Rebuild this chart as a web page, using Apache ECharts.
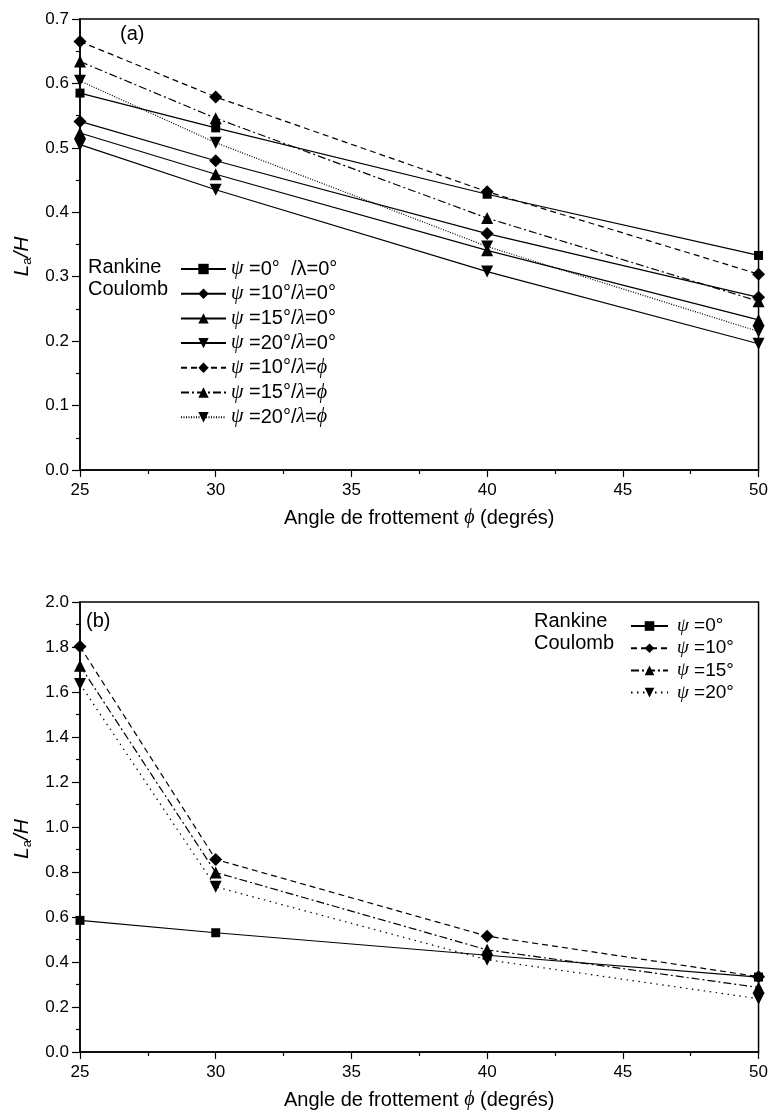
<!DOCTYPE html>
<html>
<head>
<meta charset="utf-8">
<script src="https://cdn.jsdelivr.net/npm/echarts@6/dist/echarts.min.js"></script>
<style>html,body{margin:0;padding:0;background:#fff;}#c{width:771px;height:1117px;}</style>
</head>
<body>
<div id="c"></div>
<script>
// ---- data ----
const phi = [25, 30, 40, 50];
const xTicks = [25, 30, 35, 40, 45, 50];
const yTicksA = [0.0, 0.1, 0.2, 0.3, 0.4, 0.5, 0.6, 0.7];
const yTicksB = [0.0, 0.2, 0.4, 0.6, 0.8, 1.0, 1.2, 1.4, 1.6, 1.8, 2.0];

// (a)
const rankineA = [0.585, 0.531, 0.428, 0.333];
const c10_l0 = [0.541, 0.480, 0.367, 0.268];
const c15_l0 = [0.523, 0.459, 0.341, 0.233];
const c20_l0 = [0.505, 0.435, 0.308, 0.196];
const c10_lp = [0.665, 0.579, 0.432, 0.304];
const c15_lp = [0.634, 0.546, 0.391, 0.262];
const c20_lp = [0.604, 0.508, 0.347, 0.215];

// (b)
const rankineB = [0.585, 0.530, 0.430, 0.333];
const b10 = [1.802, 0.856, 0.515, 0.335];
const b15 = [1.717, 0.798, 0.454, 0.287];
const b20 = [1.636, 0.734, 0.410, 0.237];

const namesA = ['a0', 'a10', 'a15', 'a20', 'a10p', 'a15p', 'a20p'];
const labelsA = [
  '{g|ψ} =0°  /λ=0°',
  '{g|ψ} =10°/{g|λ}=0°',
  '{g|ψ} =15°/{g|λ}=0°',
  '{g|ψ} =20°/{g|λ}=0°',
  '{g|ψ} =10°/{g|λ}={g|ϕ}',
  '{g|ψ} =15°/{g|λ}={g|ϕ}',
  '{g|ψ} =20°/{g|λ}={g|ϕ}'
];
const namesB = ['b0', 'b10', 'b15', 'b20'];
const labelsB = ['{g|ψ} =0°', '{g|ψ} =10°', '{g|ψ} =15°', '{g|ψ} =20°'];

// ---- styles ----
const SANS = 'Liberation Sans';
const SERIF = 'Liberation Serif';
const pairs = ys => phi.map((x, i) => [x, ys[i]]);

function mk(name, ys, symbol, size, type, gi) {
  return {
    name: name, type: 'line', xAxisIndex: gi, yAxisIndex: gi,
    data: pairs(ys), symbol: symbol, symbolSize: size,
    lineStyle: { color: '#000', width: 1.2, type: type },
    itemStyle: { color: '#000' },
    clip: true, animation: false
  };
}
const dashed = [6, 4];
const dashdot = [8, 3, 2, 3];
const dotA = [1, 1.5];
const dotB = [1.5, 4.5];
const tri = 'triangle';
const dtri = 'path://M0,0 L10,0 L5,9 Z';

const series = [
  mk('a0', rankineA, 'rect', 9, 'solid', 0),
  mk('a10', c10_l0, 'diamond', 13, 'solid', 0),
  mk('a15', c15_l0, tri, 12, 'solid', 0),
  mk('a20', c20_l0, dtri, 12, 'solid', 0),
  mk('a10p', c10_lp, 'diamond', 13, dashed, 0),
  mk('a15p', c15_lp, tri, 12, dashdot, 0),
  mk('a20p', c20_lp, dtri, 12, dotA, 0),
  mk('b0', rankineB, 'rect', 9, 'solid', 1),
  mk('b10', b10, 'diamond', 13, dashed, 1),
  mk('b15', b15, tri, 12, dashdot, 1),
  mk('b20', b20, dtri, 12, dotB, 1)
];

function xAx(gi) {
  return {
    type: 'value', gridIndex: gi, min: xTicks[0], max: xTicks[xTicks.length - 1], interval: 5,
    axisLine: { lineStyle: { color: '#000', width: 1.5 } },
    axisTick: { length: 7, lineStyle: { color: '#000', width: 1.2 } },
    minorTick: { show: true, splitNumber: 2, length: 4, lineStyle: { color: '#000', width: 1.2 } },
    splitLine: { show: false },
    axisLabel: { color: '#000', fontSize: 17, fontFamily: SANS, margin: 12 },
    name: '{n|Angle de frottement }{p|ϕ}{n| (degrés)}',
    nameLocation: 'middle', nameGap: 38,
    nameTextStyle: {
      rich: {
        n: { fontSize: 20, fontFamily: SANS, color: '#000' },
        p: { fontSize: 20, fontFamily: SERIF, fontStyle: 'italic', color: '#000' }
      }
    }
  };
}
function yAx(gi, ticks) {
  const step = +(ticks[1] - ticks[0]).toFixed(2);
  return {
    type: 'value', gridIndex: gi, min: ticks[0], max: ticks[ticks.length - 1], interval: step,
    axisLine: { show: true, lineStyle: { color: '#000', width: 1.5 } },
    axisTick: { show: true, length: 8, lineStyle: { color: '#000', width: 1.2 } },
    minorTick: { show: true, splitNumber: 2, length: 4, lineStyle: { color: '#000', width: 1.2 } },
    splitLine: { show: false },
    axisLabel: { color: '#000', fontSize: 17, fontFamily: SANS, margin: 11, formatter: v => v.toFixed(1) },
    name: '{i|L}{s|a}{n|/}{i|H}',
    nameLocation: 'middle', nameGap: 46,
    nameTextStyle: {
      padding: [0, 24, 0, 0],
      rich: {
        i: { fontSize: 21, fontFamily: SANS, fontStyle: 'italic', color: '#000' },
        n: { fontSize: 21, fontFamily: SANS, fontStyle: 'italic', color: '#000' },
        s: { fontSize: 13, fontFamily: SANS, color: '#000', padding: [10, 0, 0, 0] }
      }
    }
  };
}
const legendRich = fs => ({
  g: { fontSize: fs, fontFamily: SERIF, fontStyle: 'italic', color: '#000' }
});

const chart = echarts.init(document.getElementById('c'), null, { renderer: 'canvas' });
chart.setOption({
  backgroundColor: '#fff',
  animation: false,
  grid: [
    { left: 80, right: 10, top: 19, bottom: 647, show: true, borderColor: '#000', borderWidth: 1.5, backgroundColor: 'transparent' },
    { left: 80, right: 10, top: 602, bottom: 65, show: true, borderColor: '#000', borderWidth: 1.5, backgroundColor: 'transparent' }
  ],
  xAxis: [xAx(0), xAx(1)],
  yAxis: [yAx(0, yTicksA), yAx(1, yTicksB)],
  legend: [
    {
      data: namesA, orient: 'vertical', left: 175, top: 254,
      itemWidth: 45, itemHeight: 13, itemGap: 4.7, selectedMode: false,
      formatter: n => labelsA[namesA.indexOf(n)],
      textStyle: { fontSize: 20, lineHeight: 20, fontFamily: SANS, color: '#000', rich: legendRich(20) }
    },
    {
      data: namesB, orient: 'vertical', left: 625, top: 611,
      itemWidth: 37, itemHeight: 12, itemGap: 2.2, selectedMode: false,
      formatter: n => labelsB[namesB.indexOf(n)],
      textStyle: { fontSize: 19, lineHeight: 20, fontFamily: SANS, color: '#000', padding: [0, 0, 0, 4], rich: legendRich(19) }
    }
  ],
  graphic: [
    { type: 'text', left: 120, top: 24, style: { text: '(a)', font: '20px "Liberation Sans"', fill: '#000' } },
    { type: 'text', left: 86, top: 611, style: { text: '(b)', font: '20px "Liberation Sans"', fill: '#000' } },
    { type: 'text', left: 88, top: 257, style: { text: 'Rankine', font: '20px "Liberation Sans"', fill: '#000' } },
    { type: 'text', left: 88, top: 279, style: { text: 'Coulomb', font: '20px "Liberation Sans"', fill: '#000' } },
    { type: 'text', left: 534, top: 611, style: { text: 'Rankine', font: '20px "Liberation Sans"', fill: '#000' } },
    { type: 'text', left: 534, top: 633, style: { text: 'Coulomb', font: '20px "Liberation Sans"', fill: '#000' } }
  ],
  series: series
});
</script>
</body>
</html>
